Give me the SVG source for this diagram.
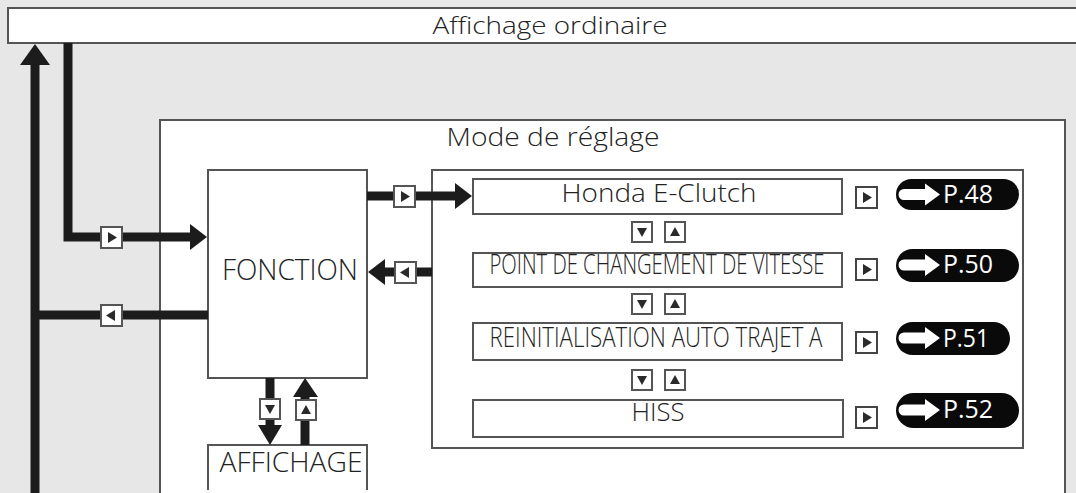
<svg xmlns="http://www.w3.org/2000/svg" xmlns:xlink="http://www.w3.org/1999/xlink" width="1076" height="493" viewBox="0 0 1076 493">
<style>
.box{fill:#fff;stroke:#555;stroke-width:2}
.txt{font-family:"Open Sans","Noto Sans","Liberation Sans",sans-serif;font-weight:300;fill:#222;text-anchor:middle}
.conn{fill:none;stroke:#1c1c1c;stroke-width:9}
.head{fill:#1c1c1c}
.btn{fill:#fff;stroke:#555;stroke-width:2}
.btn2{fill:#fff;stroke:#444;stroke-width:2}
.tri{fill:#2a2a2a}
.badge{fill:#0a0a0a}
.ptxt{font-family:"Open Sans","Noto Sans","Liberation Sans",sans-serif;font-weight:500;fill:#fff;text-anchor:start}
</style>
<defs>
<g id="bR"><rect class="btn" x="0" y="0" width="21" height="21"/><polygon class="tri" points="7,5 16,10.5 7,16"/></g>
<g id="bL"><rect class="btn" x="0" y="0" width="21" height="21"/><polygon class="tri" points="14,5 5,10.5 14,16"/></g>
<g id="bD"><rect class="btn" x="0" y="0" width="20" height="20"/><polygon class="tri" points="5,6 15,6 10,15"/></g>
<g id="bU"><rect class="btn" x="0" y="0" width="20" height="20"/><polygon class="tri" points="5,14 15,14 10,5"/></g>
<g id="bP"><rect class="btn2" x="0" y="0" width="21" height="21"/><polygon class="tri" points="7,5 16,10.5 7,16"/></g>
<g id="arr"><path d="M0,-5.5 H21 V-11 L36,0 L21,11 V5.5 H0 A5.5,5.5 0 0 1 0,-5.5 Z" fill="#fff"/></g>
</defs>
<rect x="0" y="0" width="1076" height="493" fill="#e7e7e7"/>

<g id="affichage-ordinaire">
<rect class="box" x="8" y="8" width="1070" height="35"/>
<text class="txt" x="550" y="34" font-size="24" textLength="235" lengthAdjust="spacingAndGlyphs">Affichage ordinaire</text>
</g>

<g id="mode-reglage">
<rect class="box" x="160" y="120" width="905" height="380"/>
<text class="txt" x="553" y="146" font-size="26" textLength="213" lengthAdjust="spacingAndGlyphs">Mode de réglage</text>
</g>

<g id="fonction">
<rect class="box" x="208" y="170" width="159" height="208"/>
<text class="txt" x="290" y="280" font-size="30" textLength="136" lengthAdjust="spacingAndGlyphs">FONCTION</text>
</g>

<g id="liste">
<rect class="box" x="432" y="170" width="591" height="278"/>
</g>

<g id="honda-e-clutch">
<rect class="box" x="473" y="179" width="369" height="35"/>
<text class="txt" x="659" y="202" font-size="26" textLength="195" lengthAdjust="spacingAndGlyphs">Honda E-Clutch</text>
</g>

<g id="point-changement">
<rect class="box" x="473" y="253" width="369" height="34"/>
<text class="txt" x="657" y="274" font-size="27" textLength="335" lengthAdjust="spacingAndGlyphs">POINT DE CHANGEMENT DE VITESSE</text>
</g>

<g id="reinitialisation">
<rect class="box" x="473" y="323" width="369" height="37"/>
<text class="txt" x="656" y="347" font-size="28" textLength="333" lengthAdjust="spacingAndGlyphs">REINITIALISATION AUTO TRAJET A</text>
</g>

<g id="hiss">
<rect class="box" x="473" y="400" width="370" height="37"/>
<text class="txt" x="658" y="421" font-size="26" textLength="53" lengthAdjust="spacingAndGlyphs">HISS</text>
</g>

<g id="affichage">
<path d="M208,490 V445 H367 V490" fill="#fff" stroke="#555" stroke-width="2"/>
<text class="txt" x="291" y="472" font-size="27" textLength="143" lengthAdjust="spacingAndGlyphs">AFFICHAGE</text>
</g>

<g id="connectors">
<path class="conn" d="M35,493 V63"/>
<polygon class="head" points="20,65 35,44 50,65"/>
<path class="conn" d="M68,43 V237 H191" stroke-linejoin="miter"/>
<polygon class="head" points="190,224 207,237 190,250"/>
<path class="conn" d="M35,315 H208"/>
<path class="conn" d="M367,196 H456"/>
<polygon class="head" points="455,183 472,196 455,209"/>
<path class="conn" d="M432,272 H383"/>
<polygon class="head" points="385,259 368,272 385,285"/>
<path class="conn" d="M270,378 V426"/>
<polygon class="head" points="258,425 270,445 282,425"/>
<path class="conn" d="M305,445 V396"/>
<polygon class="head" points="293,397 305,378 318,397"/>
</g>

<g id="boutons">
<use xlink:href="#bR" x="101" y="227"/>
<use xlink:href="#bL" x="101" y="305"/>
<use xlink:href="#bR" x="394" y="186"/>
<use xlink:href="#bL" x="395" y="262"/>
<use xlink:href="#bD" x="260" y="399"/>
<use xlink:href="#bU" x="296" y="400"/>
<use xlink:href="#bD" x="632" y="222"/>
<use xlink:href="#bU" x="665" y="222"/>
<use xlink:href="#bD" x="632" y="294"/>
<use xlink:href="#bU" x="665" y="294"/>
<use xlink:href="#bD" x="632" y="370"/>
<use xlink:href="#bU" x="665" y="370"/>
<use xlink:href="#bP" x="856" y="187"/>
<use xlink:href="#bP" x="856" y="259"/>
<use xlink:href="#bP" x="856" y="332"/>
<use xlink:href="#bP" x="856" y="407"/>
</g>

<g id="p48">
<rect class="badge" x="896" y="179" width="123" height="31" rx="15.5"/>
<use xlink:href="#arr" x="904" y="194.5"/>
<text class="ptxt" x="943" y="203" font-size="25" textLength="50" lengthAdjust="spacingAndGlyphs">P.48</text>
</g>
<g id="p50">
<rect class="badge" x="896" y="249" width="123" height="33" rx="16.5"/>
<use xlink:href="#arr" x="904" y="265"/>
<text class="ptxt" x="943" y="273" font-size="25" textLength="50" lengthAdjust="spacingAndGlyphs">P.50</text>
</g>
<g id="p51">
<rect class="badge" x="896" y="322" width="114" height="33" rx="16.5"/>
<use xlink:href="#arr" x="904" y="338"/>
<text class="ptxt" x="943" y="347" font-size="25" textLength="46" lengthAdjust="spacingAndGlyphs">P.51</text>
</g>
<g id="p52">
<rect class="badge" x="896" y="393" width="123" height="35" rx="17.5"/>
<use xlink:href="#arr" x="904" y="410"/>
<text class="ptxt" x="943" y="418" font-size="25" textLength="50" lengthAdjust="spacingAndGlyphs">P.52</text>
</g>
</svg>
